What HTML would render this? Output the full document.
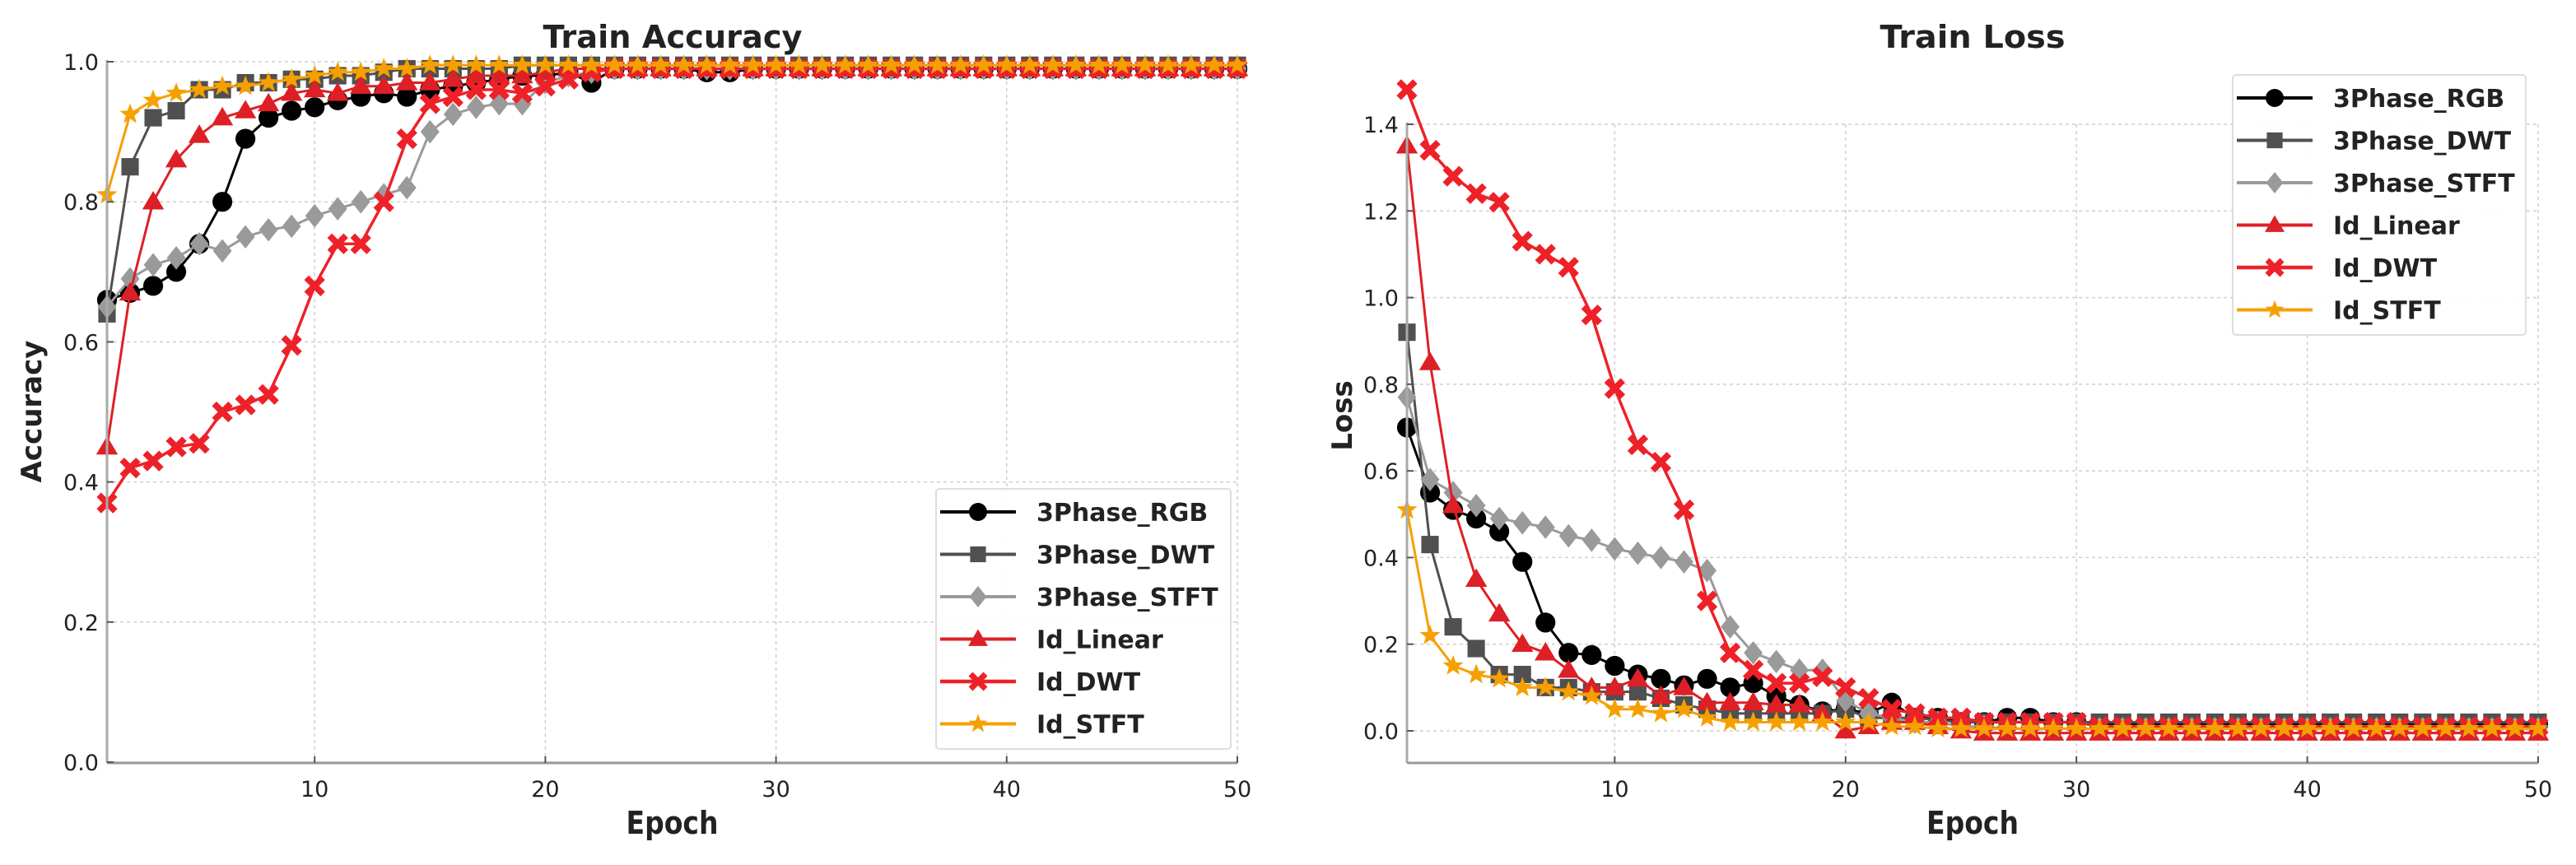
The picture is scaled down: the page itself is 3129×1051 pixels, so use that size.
<!DOCTYPE html>
<html><head><meta charset="utf-8">
<style>
html,body{margin:0;padding:0;background:#fff;}
svg{display:block;}
text{font-family:"DejaVu Sans","Liberation Sans",sans-serif;fill:#222;}
</style></head>
<body>
<svg id="chart" width="3129" height="1051" viewBox="0 0 3129 1051" xmlns="http://www.w3.org/2000/svg"></svg>
<script>
const epochs = [1,2,3,4,5,6,7,8,9,10,11,12,13,14,15,16,17,18,19,20,21,22,23,24,25,26,27,28,29,30,31,32,33,34,35,36,37,38,39,40,41,42,43,44,45,46,47,48,49,50];
const seriesNames = ["3Phase_RGB","3Phase_DWT","3Phase_STFT","Id_Linear","Id_DWT","Id_STFT"];
const xTicks = [10,20,30,40,50];
const accTicks = ["0.0","0.2","0.4","0.6","0.8","1.0"];
const lossTicks = ["0.0","0.2","0.4","0.6","0.8","1.0","1.2","1.4"];

const accRGB = [0.66,0.67,0.68,0.70,0.74,0.80,0.89,0.92,0.93,0.935,0.945,0.95,0.955,0.95,0.96,0.965,0.97,0.975,0.98,0.98,0.985,0.97,0.99,0.99,0.99,0.99,0.985,0.985,0.99,0.99,0.99,0.99,0.99,0.99,0.99,0.99,0.99,0.99,0.99,0.99,0.99,0.99,0.99,0.99,0.99,0.99,0.99,0.99,0.99,0.99];
const accDWT = [0.64,0.85,0.92,0.93,0.96,0.96,0.97,0.97,0.975,0.975,0.98,0.98,0.985,0.99,0.99,0.99,0.99,0.99,0.995,0.995,0.995,0.995,0.995,0.995,0.995,0.995,0.995,0.995,0.995,0.995,0.995,0.995,0.995,0.995,0.995,0.995,0.995,0.995,0.995,0.995,0.995,0.995,0.995,0.995,0.995,0.995,0.995,0.995,0.995,0.995];
const accSTFT = [0.65,0.69,0.71,0.72,0.74,0.73,0.75,0.76,0.765,0.78,0.79,0.80,0.81,0.82,0.90,0.925,0.935,0.94,0.94,0.97,0.98,0.985,0.99,0.99,0.99,0.99,0.99,0.99,0.99,0.99,0.99,0.99,0.99,0.99,0.99,0.99,0.99,0.99,0.99,0.99,0.99,0.99,0.99,0.99,0.99,0.99,0.99,0.99,0.99,0.99];
const accLinear = [0.45,0.67,0.80,0.86,0.895,0.92,0.93,0.94,0.955,0.96,0.955,0.965,0.965,0.97,0.97,0.975,0.98,0.98,0.98,0.985,0.99,0.99,0.99,0.99,0.99,0.99,0.99,0.99,0.99,0.99,0.99,0.99,0.99,0.99,0.99,0.99,0.99,0.99,0.99,0.99,0.99,0.99,0.99,0.99,0.99,0.99,0.99,0.99,0.99,0.99];
const accIdDWT = [0.37,0.42,0.43,0.45,0.455,0.50,0.51,0.525,0.595,0.68,0.74,0.74,0.80,0.89,0.94,0.95,0.96,0.96,0.955,0.965,0.975,0.985,0.99,0.99,0.99,0.99,0.99,0.99,0.99,0.99,0.99,0.99,0.99,0.99,0.99,0.99,0.99,0.99,0.99,0.99,0.99,0.99,0.99,0.99,0.99,0.99,0.99,0.99,0.99,0.99];
const accIdSTFT = [0.81,0.925,0.945,0.955,0.96,0.965,0.965,0.97,0.975,0.98,0.985,0.985,0.99,0.99,0.995,0.995,0.995,0.995,0.995,0.995,0.995,0.995,0.995,0.995,0.995,0.995,0.995,0.995,0.995,0.995,0.995,0.995,0.995,0.995,0.995,0.995,0.995,0.995,0.995,0.995,0.995,0.995,0.995,0.995,0.995,0.995,0.995,0.995,0.995,0.995];

const lossRGB = [0.70,0.55,0.51,0.49,0.46,0.39,0.25,0.18,0.175,0.15,0.13,0.12,0.105,0.12,0.10,0.11,0.08,0.06,0.045,0.05,0.04,0.065,0.03,0.03,0.02,0.02,0.03,0.03,0.02,0.02,0.015,0.015,0.015,0.015,0.015,0.015,0.015,0.015,0.015,0.015,0.015,0.015,0.015,0.015,0.015,0.015,0.015,0.015,0.015,0.015];
const lossDWT = [0.92,0.43,0.24,0.19,0.13,0.13,0.10,0.10,0.09,0.09,0.09,0.075,0.06,0.05,0.04,0.04,0.04,0.04,0.04,0.05,0.03,0.03,0.03,0.025,0.02,0.02,0.02,0.02,0.02,0.02,0.02,0.02,0.02,0.02,0.02,0.02,0.02,0.02,0.02,0.02,0.02,0.02,0.02,0.02,0.02,0.02,0.02,0.02,0.02,0.02];
const lossSTFT = [0.77,0.58,0.55,0.52,0.49,0.48,0.47,0.45,0.44,0.42,0.41,0.40,0.39,0.37,0.24,0.18,0.16,0.14,0.14,0.07,0.04,0.03,0.02,0.02,0.01,0.01,0.005,0.005,0.005,0.005,0.005,0.005,0.005,0.005,0.005,0.005,0.005,0.005,0.005,0.005,0.005,0.005,0.005,0.005,0.005,0.005,0.005,0.005,0.005,0.005];
const lossLinear = [1.35,0.85,0.52,0.35,0.27,0.20,0.18,0.14,0.10,0.10,0.12,0.08,0.10,0.065,0.065,0.065,0.06,0.06,0.04,0.0,0.01,0.02,0.02,0.01,0.0,-0.005,-0.005,-0.005,-0.005,-0.005,-0.005,-0.005,-0.005,-0.005,-0.005,-0.005,-0.005,-0.005,-0.005,-0.005,-0.005,-0.005,-0.005,-0.005,-0.005,-0.005,-0.005,-0.005,-0.005,-0.005];
const lossIdDWT = [1.48,1.34,1.28,1.24,1.22,1.13,1.10,1.07,0.96,0.79,0.66,0.62,0.51,0.30,0.18,0.14,0.11,0.11,0.125,0.10,0.075,0.05,0.04,0.03,0.03,0.02,0.02,0.02,0.02,0.02,0.01,0.01,0.01,0.01,0.01,0.01,0.01,0.01,0.01,0.01,0.01,0.01,0.01,0.01,0.01,0.01,0.01,0.01,0.01,0.01];
const lossIdSTFT = [0.51,0.22,0.15,0.13,0.12,0.10,0.10,0.09,0.08,0.05,0.05,0.04,0.05,0.03,0.02,0.02,0.02,0.02,0.02,0.02,0.02,0.01,0.01,0.005,0.005,0.005,0.005,0.005,0.005,0.005,0.005,0.005,0.005,0.005,0.005,0.005,0.005,0.005,0.005,0.005,0.005,0.005,0.005,0.005,0.005,0.005,0.005,0.005,0.005,0.005];

const accSeries = [accRGB,accDWT,accSTFT,accLinear,accIdDWT,accIdSTFT];
const lossSeries = [lossRGB,lossDWT,lossSTFT,lossLinear,lossIdDWT,lossIdSTFT];

const styles = [
 {c:"#000000",m:"circle",w:3},
 {c:"#505050",m:"square",w:3},
 {c:"#9a9a9a",m:"diamond",w:3},
 {c:"#dd2026",m:"triangle",w:3},
 {c:"#ee2128",m:"x",w:3.5},
 {c:"#f5a000",m:"star",w:3}
];
const NS="http://www.w3.org/2000/svg";
const svg=document.getElementById('chart');
function mk(tag,attrs,parent){const e=document.createElementNS(NS,tag);for(const k in attrs)e.setAttribute(k,attrs[k]);(parent||svg).appendChild(e);return e;}

function marker(g,type,x,y,color,s){
  let e;
  if(type==="circle") e=mk('circle',{cx:x,cy:y,r:s*0.55,fill:color},g);
  else if(type==="square") e=mk('rect',{x:x-s*0.48,y:y-s*0.48,width:s*0.96,height:s*0.96,fill:color},g);
  else if(type==="diamond"){const r=s*0.65;e=mk('polygon',{points:`${x},${y-r} ${x+r*0.8},${y} ${x},${y+r} ${x-r*0.8},${y}`,fill:color},g);}
  else if(type==="triangle"){const r=s*0.6;e=mk('polygon',{points:`${x},${y-r} ${x+r},${y+r*0.7} ${x-r},${y+r*0.7}`,fill:color},g);}
  else if(type==="x"){const r=s*0.45;e=mk('path',{d:`M${x-r},${y-r}L${x+r},${y+r}M${x+r},${y-r}L${x-r},${y+r}`,stroke:color,'stroke-width':s*0.35,fill:'none'},g);}
  else {const pts=[];for(let i=0;i<10;i++){const a=-Math.PI/2+i*Math.PI/5;const r=i%2?s*0.25:s*0.6;pts.push((x+r*Math.cos(a)).toFixed(1)+','+(y+r*Math.sin(a)).toFixed(1));}e=mk('polygon',{points:pts.join(' '),fill:color},g);}
  return e;
}

function drawPanel(cfg){
  const {x0,x1,yTop,yBot,vTop,vBot,ticks,tickVals,series,title,titleX,ylabel,ylabelX,legend,name}=cfg;
  const sx=v=>x0+(v-1)/(49)*(x1-x0);
  const sy=v=>yBot+(v-vBot)/(vTop-vBot)*(yTop-yBot);
  const panel=mk('g',{});
  
  
  const grid=mk('g',{},panel);
  
  
  xTicks.forEach(t=>{mk('line',{x1:sx(t),x2:sx(t),y1:yTop,y2:cfg.axisBot,stroke:'#cfcfcf','stroke-width':1.5,'stroke-dasharray':'4,4'},grid);});
  tickVals.forEach(v=>{mk('line',{x1:x0,x2:x1,y1:sy(v),y2:sy(v),stroke:'#cfcfcf','stroke-width':1.5,'stroke-dasharray':'4,4'},grid);});
  series.forEach((vals,i)=>{
    const st=styles[i];
    const g=mk('g',{},panel);
    
    
    const d=vals.map((v,j)=>(j?'L':'M')+sx(epochs[j]).toFixed(1)+','+sy(v).toFixed(1)).join('');
    mk('path',{d:d,stroke:st.c,'stroke-width':st.w,fill:'none','stroke-linejoin':'round'},g);
    vals.forEach((v,j)=>{marker(g,st.m,sx(epochs[j]),sy(v),st.c,22);});
  });
  mk('line',{x1:x0,x2:x0,y1:yTop-2,y2:cfg.axisBot,stroke:'#aaaaaa','stroke-width':3},panel);
  mk('line',{x1:x0,x2:x1,y1:cfg.axisBot,y2:cfg.axisBot,stroke:'#999999','stroke-width':3},panel);
  xTicks.forEach(t=>{
    mk('line',{x1:sx(t),x2:sx(t),y1:cfg.axisBot,y2:cfg.axisBot-8,stroke:'#555','stroke-width':2},panel);
    const tx=mk('text',{x:sx(t),y:968,'font-size':27,'text-anchor':'middle'},panel);
    tx.textContent=t;
    
    
  });
  ticks.forEach((lab,i)=>{
    const v=tickVals[i];
    mk('line',{x1:x0,x2:x0+8,y1:sy(v),y2:sy(v),stroke:'#555','stroke-width':2},panel);
    const tx=mk('text',{x:x0-10,y:sy(v)+10,'font-size':27,'text-anchor':'end'},panel);
    tx.textContent=lab;
    
    
  });
  const tt=mk('text',{x:titleX,y:58,'font-size':38,'font-weight':'bold','text-anchor':'middle',textLength:title.length*22.5,lengthAdjust:'spacingAndGlyphs'},panel);
  tt.textContent=title;
  
  
  const xl=mk('text',{x:(x0+x1)/2,y:1013,'font-size':38,'font-weight':'bold','text-anchor':'middle',textLength:112,lengthAdjust:'spacingAndGlyphs'},panel);
  xl.textContent='Epoch';
  
  
  const yl=mk('text',{x:0,y:0,'font-size':34,'font-weight':'bold','text-anchor':'middle',transform:`translate(${ylabelX},${cfg.ylabelY}) rotate(-90)`},panel);
  yl.textContent=ylabel;
  
  
  const lg=mk('g',{},panel);
  
  
  mk('rect',{x:legend.x,y:legend.y,width:legend.w,height:legend.h,rx:4,fill:'#fff','fill-opacity':0.9,stroke:'#dddddd','stroke-width':2},lg);
  seriesNames.forEach((n,i)=>{
    const st=styles[i];const cy=legend.y+28+i*51.5;
    const en=mk('g',{},lg);
    
    
    mk('line',{x1:legend.x+5,x2:legend.x+97,y1:cy,y2:cy,stroke:st.c,'stroke-width':st.w+1},en);
    marker(en,st.m,legend.x+51,cy,st.c,20);
    const t=mk('text',{x:legend.x+122,y:cy+11,'font-size':30,'font-weight':'bold',fill:'#222'},en);
    t.textContent=n;
  });
}

drawPanel({name:'train-accuracy-chart',x0:130,x1:1503,yTop:75,yBot:926,vTop:1.0,vBot:0.0,axisBot:927,
  ticks:accTicks,tickVals:[0,0.2,0.4,0.6,0.8,1.0],series:accSeries,title:'Train Accuracy',titleX:817,
  ylabel:'Accuracy',ylabelX:50,ylabelY:500,legend:{x:1137,y:594,w:358,h:316}});
drawPanel({name:'train-loss-chart',x0:1709,x1:3083,yTop:151,yBot:888,vTop:1.4,vBot:0.0,axisBot:927,
  ticks:lossTicks,tickVals:[0,0.2,0.4,0.6,0.8,1.0,1.2,1.4],series:lossSeries,title:'Train Loss',titleX:2396,
  ylabel:'Loss',ylabelX:1642,ylabelY:505,legend:{x:2712,y:91,w:356,h:316}});
</script>
</body></html>
